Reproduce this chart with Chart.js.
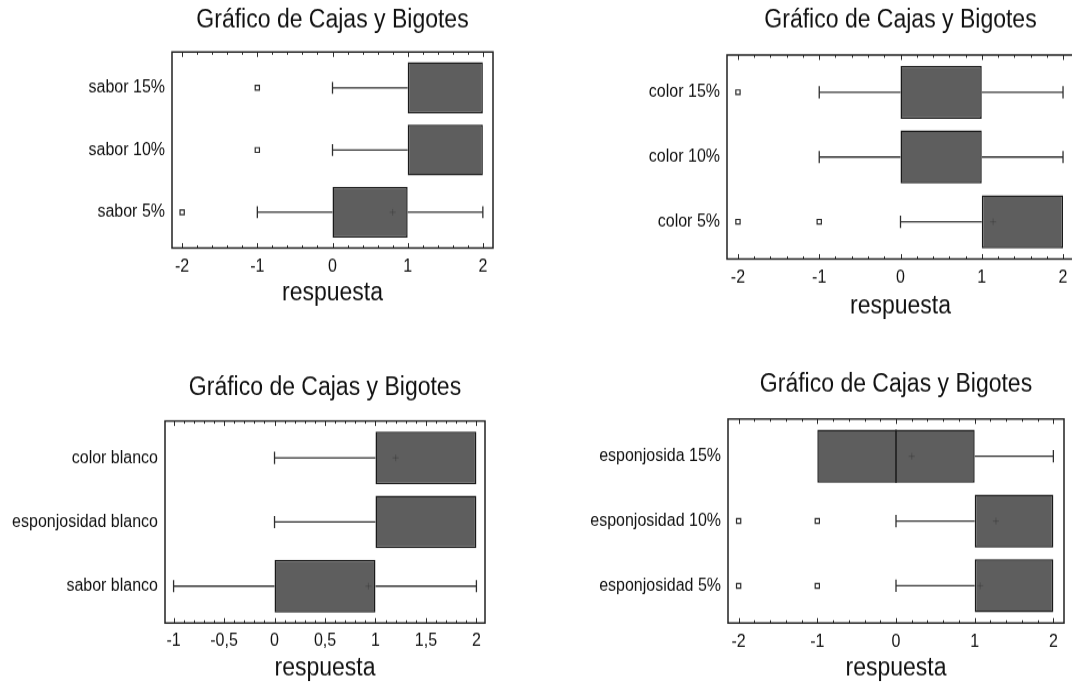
<!DOCTYPE html>
<html><head><meta charset="utf-8">
<script src="https://cdn.jsdelivr.net/npm/chart.js@4.4.1/dist/chart.umd.min.js"></script>
<style>
html,body{margin:0;padding:0;width:1072px;height:685px;overflow:hidden;background:#fff;}
.w{position:absolute;transform-origin:0 0;}
canvas{display:block;}
</style></head><body>
<div class="w" id="w1"><canvas id="c1"></canvas></div>
<div class="w" id="w2"><canvas id="c2"></canvas></div>
<div class="w" id="w3"><canvas id="c3"></canvas></div>
<div class="w" id="w4"><canvas id="c4"></canvas></div>
<script>
// ---------- DATA ----------
const titleText = 'Gráfico de Cajas y Bigotes';
const axisTitle = 'respuesta';

// Chart 1 (sabor)
const cats1 = ['sabor 15%', 'sabor 10%', 'sabor 5%'];
const q1_1 = [1, 1, 0];
const q3_1 = [2, 2, 1];
const med1 = [2, 2, 1];
const wlo1 = [0, 0, -1];
const whi1 = [2, 2, 2];
const out1 = [[-1], [-1], [-2]];
const mean1 = [null, null, 0.8];
const xTicks1 = [-2, -1, 0, 1, 2];
const xLabels1 = ['-2', '-1', '0', '1', '2'];

// Chart 2 (color)
const cats2 = ['color 15%', 'color 10%', 'color 5%'];
const q1_2 = [0, 0, 1];
const q3_2 = [1, 1, 2];
const med2 = [1, 1, 2];
const wlo2 = [-1, -1, 0];
const whi2 = [2, 2, 2];
const out2 = [[-2], [], [-2, -1]];
const mean2 = [null, null, 1.14];
const xTicks2 = [-2, -1, 0, 1, 2];
const xLabels2 = ['-2', '-1', '0', '1', '2'];

// Chart 3 (blanco)
const cats3 = ['color blanco', 'esponjosidad blanco', 'sabor blanco'];
const q1_3 = [1, 1, 0];
const q3_3 = [2, 2, 1];
const med3 = [2, 2, 1];
const wlo3 = [0, 0, -1];
const whi3 = [2, 2, 2];
const out3 = [[], [], []];
const mean3 = [1.2, null, 0.93];
const xTicks3 = [-1, -0.5, 0, 0.5, 1, 1.5, 2];
const xLabels3 = ['-1', '-0,5', '0', '0,5', '1', '1,5', '2'];

// Chart 4 (esponjosidad)
const cats4 = ['esponjosida 15%', 'esponjosidad 10%', 'esponjosidad 5%'];
const q1_4 = [-1, 1, 1];
const q3_4 = [1, 2, 2];
const med4 = [0, 2, 2];
const wlo4 = [-1, 0, 0];
const whi4 = [2, 2, 2];
const out4 = [[], [-2, -1], [-2, -1]];
const mean4 = [0.2, 1.27, 1.07];
const xTicks4 = [-2, -1, 0, 1, 2];
const xLabels4 = ['-2', '-1', '0', '1', '2'];

// ---------- STYLE / LAYOUT ----------
const FONT = "'Liberation Sans', Arial, Helvetica, sans-serif";
Chart.defaults.font.family = FONT;
const TXT = '#111111';
const SY = 1.1;        // vertical stretch of the scanned original
const BOX = 0.82;      // box height as fraction of category spacing
const CAP = 0.095;     // half cap height in category units
const TITLE_SIZE = 23, TITLE_LH = TITLE_SIZE * 1.2;
const LABEL_SIZE = 16, LABEL_LH = LABEL_SIZE * 1.2;

const framePlugin = {
  id: 'frame',
  afterDatasetsDraw(chart, args, opts) {
    const {ctx, chartArea: a, scales: {x}} = chart;
    ctx.save();
    ctx.strokeStyle = '#2b2b2b';
    ctx.lineWidth = 1;
    const kMin = Math.ceil(x.min / opts.minor - 1e-9), kMax = Math.floor(x.max / opts.minor + 1e-9);
    ctx.beginPath();
    for (let k = kMin; k <= kMax; k++) {
      const v = k * opts.minor;
      const major = opts.major.some(m => Math.abs(m - v) < 1e-6);
      const len = major ? 4.5 : 2.5;
      const px = Math.round(x.getPixelForValue(v)) + 0.5;
      ctx.moveTo(px, a.bottom); ctx.lineTo(px, a.bottom - len);
      ctx.moveTo(px, a.top); ctx.lineTo(px, a.top + len);
    }
    ctx.stroke();
    ctx.lineWidth = 1.5;
    ctx.strokeStyle = '#222';
    ctx.strokeRect(a.left, a.top, a.right - a.left, a.bottom - a.top);
    ctx.restore();
  }
};

function seg(x0, y0, x1, y1, color, w, order) {
  return {type: 'line', data: [{x: x0, y: y0}, {x: x1, y: y1}], borderColor: color, borderWidth: w,
          pointRadius: 0, fill: false, order: order, tension: 0};
}

function makeChart(n, g, d) {
  const cw = Math.round(g.right - g.cLeft + 10);
  const topC = (g.top - g.cTop) / SY;
  const bottomC = (g.bottom - g.cTop) / SY;
  const titleC = (g.titleY - g.cTop) / SY;
  const tickC = (g.tickY - g.cTop) / SY;
  const axisTitleC = (g.axisTitleY - g.cTop) / SY;
  const ch = Math.round(axisTitleC + TITLE_LH / 2 + 2);
  const xH = ch - bottomC;
  const axisTitlePadBottom = ch - axisTitleC - TITLE_LH / 2;

  const wrap = document.getElementById('w' + n);
  wrap.style.left = g.cLeft + 'px'; wrap.style.top = g.cTop + 'px';
  wrap.style.width = cw + 'px'; wrap.style.height = ch + 'px';
  wrap.style.transform = 'scaleY(' + SY + ')';
  const canvas = document.getElementById('c' + n);
  canvas.width = cw; canvas.height = ch;
  canvas.style.width = cw + 'px'; canvas.style.height = ch + 'px';

  const padTop = titleC - TITLE_LH / 2;
  const padBottom = topC - padTop - TITLE_LH;

  const ds = [];
  // boxes
  ds.push({type: 'bar', indexAxis: 'y',
    data: d.cats.map((c, i) => ({y: i, x: [d.q1[i], d.q3[i]]})),
    backgroundColor: '#5e5e5e', borderColor: '#1a1a1a', borderWidth: 1.5, borderSkipped: false,
    categoryPercentage: 1, barPercentage: BOX, order: 10});
  // whiskers + caps + medians
  d.cats.forEach((c, i) => {
    if (d.wlo[i] < d.q1[i]) {
      ds.push(seg(d.wlo[i], i, d.q1[i], i, '#2e2e2e', 1.3, 5));
      ds.push(seg(d.wlo[i], i - CAP, d.wlo[i], i + CAP, '#2e2e2e', 1.3, 5));
    }
    if (d.whi[i] > d.q3[i]) {
      ds.push(seg(d.q3[i], i, d.whi[i], i, '#2e2e2e', 1.3, 5));
      ds.push(seg(d.whi[i], i - CAP, d.whi[i], i + CAP, '#2e2e2e', 1.3, 5));
    }
    if (d.med[i] > d.q1[i] && d.med[i] < d.q3[i]) {
      ds.push(seg(d.med[i], i - BOX / 2, d.med[i], i + BOX / 2, '#1a1a1a', 1.5, 1));
    }
  });
  // means
  ds.push({type: 'scatter',
    data: d.mean.map((m, i) => m === null ? null : {x: m, y: i}).filter(p => p),
    pointStyle: 'cross', pointRadius: 3, borderColor: 'rgba(45,45,45,0.35)', borderWidth: 1, order: 0});
  // outliers
  const outs = [];
  d.out.forEach((arr, i) => arr.forEach(v => outs.push({x: v, y: i})));
  ds.push({type: 'scatter', data: outs, pointStyle: 'rect', pointRadius: 3,
    backgroundColor: '#ffffff', borderColor: '#2a2a2a', borderWidth: 1.2, order: 0});

  new Chart(canvas, {
    type: 'scatter',
    data: {datasets: ds},
    plugins: [framePlugin],
    options: {
      responsive: false, animation: false, devicePixelRatio: 1,
      layout: {padding: {left: 0, top: 0, bottom: 0, right: cw - (g.right - g.cLeft)}},
      plugins: {
        legend: {display: false}, tooltip: {enabled: false},
        title: {display: true, text: titleText, color: TXT, fullSize: false,
          font: {size: TITLE_SIZE, weight: 'normal', family: FONT},
          padding: {top: padTop, bottom: padBottom}},
        frame: {minor: g.minor, major: d.xTicks}
      },
      scales: {
        x: {type: 'linear', position: 'bottom', min: g.xmin, max: g.xmax, offset: false,
          afterBuildTicks: s => { s.ticks = d.xTicks.map(v => ({value: v})); },
          ticks: {callback: (v, i) => d.xLabels[i], color: TXT, font: {size: LABEL_SIZE},
            padding: tickC - bottomC - LABEL_LH / 2, maxRotation: 0, autoSkip: false},
          grid: {display: false, drawTicks: false, tickLength: 0, offset: false},
          border: {display: false},
          title: {display: true, text: axisTitle, color: TXT, font: {size: TITLE_SIZE, family: FONT},
            padding: {top: 0, bottom: axisTitlePadBottom}},
          afterFit: s => { s.height = xH; }
        },
        y: {type: 'linear', position: 'left', min: -0.575, max: 2.575, reverse: true, offset: false,
          afterBuildTicks: s => { s.ticks = d.cats.map((c, i) => ({value: i})); },
          ticks: {callback: v => d.cats[v], color: TXT, font: {size: LABEL_SIZE}, padding: 7, autoSkip: false},
          grid: {display: false, drawTicks: false, tickLength: 0, offset: false},
          border: {display: false},
          afterFit: s => { s.width = g.left - g.cLeft; }
        }
      }
    }
  });
}

makeChart(1, {cLeft: 0, cTop: 0, left: 172, right: 493, top: 52, bottom: 248, titleY: 20, tickY: 267, axisTitleY: 293, xmin: -2.135, xmax: 2.135, minor: 0.2},
  {cats: cats1, q1: q1_1, q3: q3_1, med: med1, wlo: wlo1, whi: whi1, out: out1, mean: mean1, xTicks: xTicks1, xLabels: xLabels1});
makeChart(2, {cLeft: 540, cTop: 0, left: 727, right: 1074, top: 55, bottom: 259, titleY: 21, tickY: 278, axisTitleY: 306, xmin: -2.135, xmax: 2.135, minor: 0.2},
  {cats: cats2, q1: q1_2, q3: q3_2, med: med2, wlo: wlo2, whi: whi2, out: out2, mean: mean2, xTicks: xTicks2, xLabels: xLabels2});
makeChart(3, {cLeft: 0, cTop: 340, left: 165, right: 485, top: 421, bottom: 623, titleY: 388, tickY: 641, axisTitleY: 668, xmin: -1.085, xmax: 2.085, minor: 0.1},
  {cats: cats3, q1: q1_3, q3: q3_3, med: med3, wlo: wlo3, whi: whi3, out: out3, mean: mean3, xTicks: xTicks3, xLabels: xLabels3});
makeChart(4, {cLeft: 540, cTop: 340, left: 728, right: 1064, top: 419, bottom: 623, titleY: 385, tickY: 642, axisTitleY: 668, xmin: -2.135, xmax: 2.135, minor: 0.2},
  {cats: cats4, q1: q1_4, q3: q3_4, med: med4, wlo: wlo4, whi: whi4, out: out4, mean: mean4, xTicks: xTicks4, xLabels: xLabels4});
</script>
</body></html>
